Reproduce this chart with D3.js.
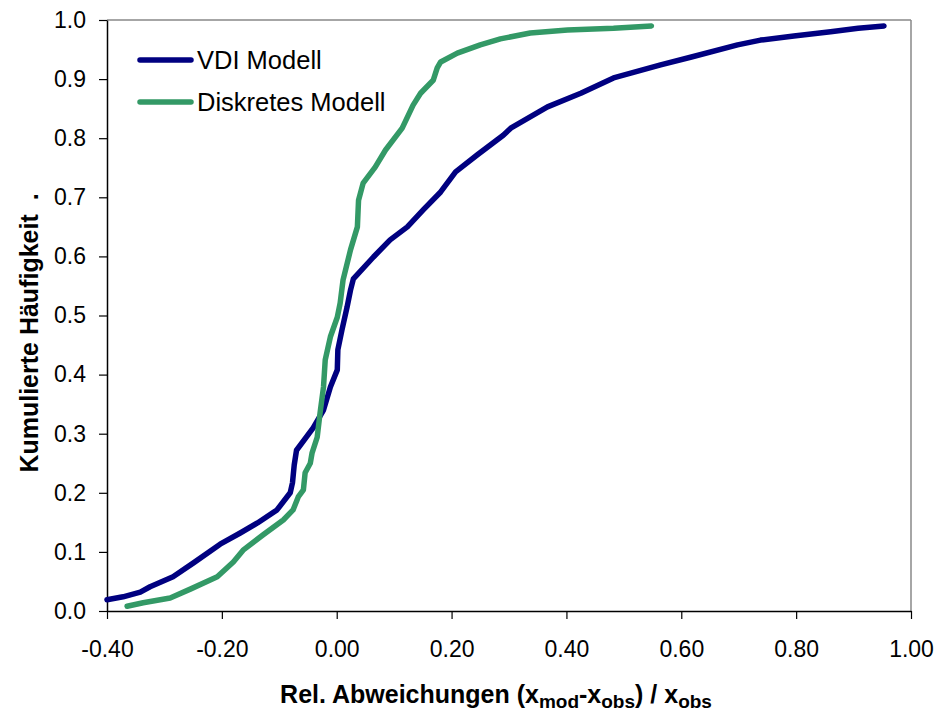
<!DOCTYPE html>
<html>
<head>
<meta charset="utf-8">
<script src="https://cdn.jsdelivr.net/npm/d3@7"></script>
<style>
  html, body { margin: 0; padding: 0; background: #fff; }
  svg { display: block; }
  text { font-family: "Liberation Sans", Arial, sans-serif; fill: #000; }
</style>
</head>
<body>
<svg id="chart" width="942" height="718"></svg>
<script>
// ---- data ----
const vdiX = [-0.400,-0.372,-0.342,-0.325,-0.285,-0.250,-0.203,-0.168,-0.138,-0.104,-0.081,-0.077,-0.074,-0.070,-0.041,-0.023,-0.011,0.001,0.002,0.009,0.018,0.024,0.029,0.064,0.093,0.123,0.151,0.181,0.207,0.245,0.290,0.303,0.367,0.425,0.482,0.564,0.616,0.698,0.738,0.796,0.860,0.908,0.953];
const vdiY = [0.019,0.024,0.032,0.041,0.058,0.081,0.113,0.132,0.149,0.171,0.200,0.217,0.247,0.272,0.310,0.340,0.379,0.408,0.442,0.475,0.514,0.543,0.562,0.599,0.628,0.650,0.679,0.709,0.743,0.772,0.805,0.817,0.853,0.876,0.902,0.924,0.937,0.958,0.966,0.973,0.980,0.986,0.990];
const diskX = [-0.365,-0.337,-0.290,-0.255,-0.208,-0.180,-0.163,-0.128,-0.093,-0.076,-0.067,-0.058,-0.055,-0.046,-0.043,-0.034,-0.029,-0.023,-0.020,-0.011,0.001,0.006,0.011,0.024,0.036,0.038,0.046,0.067,0.085,0.114,0.133,0.146,0.168,0.175,0.181,0.210,0.250,0.285,0.337,0.402,0.482,0.548];
const diskY = [0.008,0.014,0.022,0.037,0.058,0.083,0.103,0.129,0.154,0.171,0.193,0.205,0.234,0.250,0.267,0.294,0.335,0.379,0.425,0.464,0.497,0.521,0.560,0.611,0.650,0.695,0.724,0.751,0.780,0.817,0.856,0.876,0.898,0.919,0.929,0.944,0.958,0.968,0.978,0.983,0.986,0.990];
const seriesNames = ["VDI Modell", "Diskretes Modell"];
const seriesColors = ["#000080", "#339966"];
const xTicks = [-0.4,-0.2,0,0.2,0.4,0.6,0.8,1.0];
const yTicks = [0,0.1,0.2,0.3,0.4,0.5,0.6,0.7,0.8,0.9,1.0];

// ---- chart ----
const svg = d3.select("#chart");
const x = d3.scaleLinear().domain([-0.4, 1.0]).range([107, 911]);
const y = d3.scaleLinear().domain([0, 1]).range([611, 20]);

// frame (top/right gray)
svg.append("line").attr("x1", x(-0.4)).attr("x2", x(1.0)).attr("y1", y(1)).attr("y2", y(1))
  .attr("stroke", "#888").attr("stroke-width", 1.5);
svg.append("line").attr("x1", x(1.0)).attr("x2", x(1.0)).attr("y1", y(1)).attr("y2", y(0))
  .attr("stroke", "#888").attr("stroke-width", 1.5);

// axes
const xAxis = d3.axisBottom(x).tickValues(xTicks).tickFormat(d3.format(".2f")).tickSize(8).tickSizeOuter(0);
const gx = svg.append("g").attr("transform", `translate(0,${y(0)})`).call(xAxis);
gx.select(".domain").attr("stroke", "#000").attr("stroke-width", 1.5);
gx.selectAll(".tick line").attr("stroke", "#000").attr("stroke-width", 1.2);
gx.selectAll(".tick text").attr("font-size", 23).attr("y", 30).attr("dy", "0.71em")
  .style("font-family", "'Liberation Sans', Arial, sans-serif").attr("fill", "#000")
  .text(d => d3.format(".2f")(d).replace("−", "-"));

const yAxis = d3.axisLeft(y).tickValues(yTicks).tickFormat(d3.format(".1f")).tickSize(8).tickSizeOuter(0);
const gy = svg.append("g").attr("transform", `translate(${x(-0.4)},0)`).call(yAxis);
gy.select(".domain").attr("stroke", "#000").attr("stroke-width", 1.5);
gy.selectAll(".tick line").attr("stroke", "#000").attr("stroke-width", 1.2);
gy.selectAll(".tick text").attr("font-size", 23).attr("x", -21)
  .style("font-family", "'Liberation Sans', Arial, sans-serif").attr("fill", "#000");

// lines
const line = d3.line().x(d => x(d[0])).y(d => y(d[1]));
const series = [d3.zip(vdiX, vdiY), d3.zip(diskX, diskY)];
series.forEach((pts, i) => {
  svg.append("path").datum(pts).attr("d", line).attr("fill", "none")
    .attr("stroke", seriesColors[i]).attr("stroke-width", 5.5)
    .attr("stroke-linecap", "round").attr("stroke-linejoin", "round");
});

// legend
seriesNames.forEach((name, i) => {
  const ly = 60 + i * 42;
  svg.append("line").attr("x1", 140).attr("x2", 191).attr("y1", ly).attr("y2", ly)
    .attr("stroke", seriesColors[i]).attr("stroke-width", 5.5).attr("stroke-linecap", "round");
  svg.append("text").attr("x", 197).attr("y", ly + 9).attr("font-size", 25.5).text(name);
});

// axis titles
const xt = svg.append("text").attr("x", 496).attr("y", 703).attr("text-anchor", "middle")
  .attr("font-size", 25).attr("font-weight", "bold");
xt.append("tspan").text("Rel. Abweichungen (x");
xt.append("tspan").attr("font-size", 19).attr("dy", 5).text("mod");
xt.append("tspan").attr("dy", -5).text("-x");
xt.append("tspan").attr("font-size", 19).attr("dy", 5).text("obs");
xt.append("tspan").attr("dy", -5).text(") / x");
xt.append("tspan").attr("font-size", 19).attr("dy", 5).text("obs");

svg.append("text").attr("transform", "translate(38,333) rotate(-90)")
  .attr("text-anchor", "middle").attr("font-size", 25).attr("font-weight", "bold")
  .style("white-space", "pre").text("Kumulierte Häufigkeit  .");
</script>
</body>
</html>
